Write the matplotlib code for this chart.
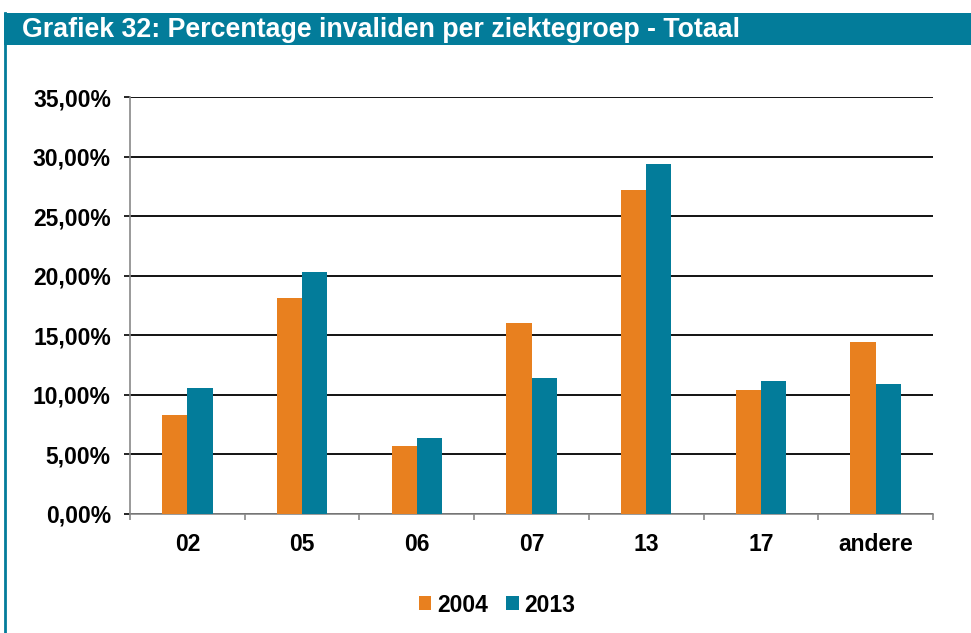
import matplotlib
matplotlib.use("Agg")
import matplotlib.pyplot as plt
from matplotlib.patches import Rectangle
from matplotlib.lines import Line2D
import numpy as np

plt.rcParams['font.family'] = ['Liberation Sans', 'DejaVu Sans']

categories = ["02", "05", "06", "07", "13", "17", "andere"]
series_names = ["2004", "2013"]
values_2004 = [8.34, 18.17, 5.69, 16.00, 27.17, 10.37, 14.41]
values_2013 = [10.54, 20.34, 6.38, 11.40, 29.35, 11.18, 10.90]
yticks = [0, 5, 10, 15, 20, 25, 30, 35]
ytick_labels = ["0,00%", "5,00%", "10,00%", "15,00%", "20,00%", "25,00%", "30,00%", "35,00%"]

orange = "#E8801F"
teal = "#037C9A"

W, H = 971, 633
fig = plt.figure(figsize=(W / 100, H / 100), dpi=100)

# title band
fig.patches.append(Rectangle((4 / W, 1 - 45 / H), 1 - 4 / W, 32 / H, transform=fig.transFigure,
                             facecolor=teal, edgecolor="none", zorder=0))
fig.lines.append(Line2D([5 / W, 5 / W], [0, 1 - 13 / H], transform=fig.transFigure,
                        color=teal, lw=2))
fig.text(22 / W, 1 - 30 / H, "Grafiek 32: Percentage invaliden per ziektegroep - Totaal",
         color="white", fontsize=19.3, fontweight="bold", va="center", ha="left")

left, right, top, bottom = 130, 933, 97, 514
ax = fig.add_axes([left / W, 1 - bottom / H, (right - left) / W, (bottom - top) / H])

x = np.arange(len(categories))
bw = 0.22
ax.bar(x - bw / 2, values_2004, bw, color=orange, label=series_names[0], zorder=3)
ax.bar(x + bw / 2, values_2013, bw, color=teal, label=series_names[1], zorder=3)

ax.set_xlim(-0.5, len(categories) - 0.5)
ax.set_ylim(0, 35)
ax.set_yticks(yticks)
ax.set_yticklabels(ytick_labels, fontsize=16.5, fontweight="bold")
ax.yaxis.grid(True, color="black", lw=1.3, zorder=0)
ax.set_axisbelow(True)

ax.set_xticks(x)
ax.set_xticklabels(categories, fontsize=16.5, fontweight="bold")
ax.tick_params(axis="x", length=0, pad=14)
ax.set_xticks(np.arange(-0.5, len(categories)), minor=True)
ax.tick_params(axis="x", which="minor", length=4.3, color="#898989", width=1.2)
ax.tick_params(axis="y", length=4.3, color="black", width=1.2, pad=9.5)

for s in ["top", "right"]:
    ax.spines[s].set_visible(False)
for s in ["left", "bottom"]:
    ax.spines[s].set_color("#898989")
    ax.spines[s].set_linewidth(1.2)

leg = fig.legend(loc="center", bbox_to_anchor=(497 / W, 1 - 605 / H), ncol=2, frameon=False,
                 prop={"weight": "bold", "size": 16.5}, handlelength=0.55, handleheight=0.55,
                 handletextpad=0.25, columnspacing=0.8)

fig.savefig("out.png", dpi=100)
